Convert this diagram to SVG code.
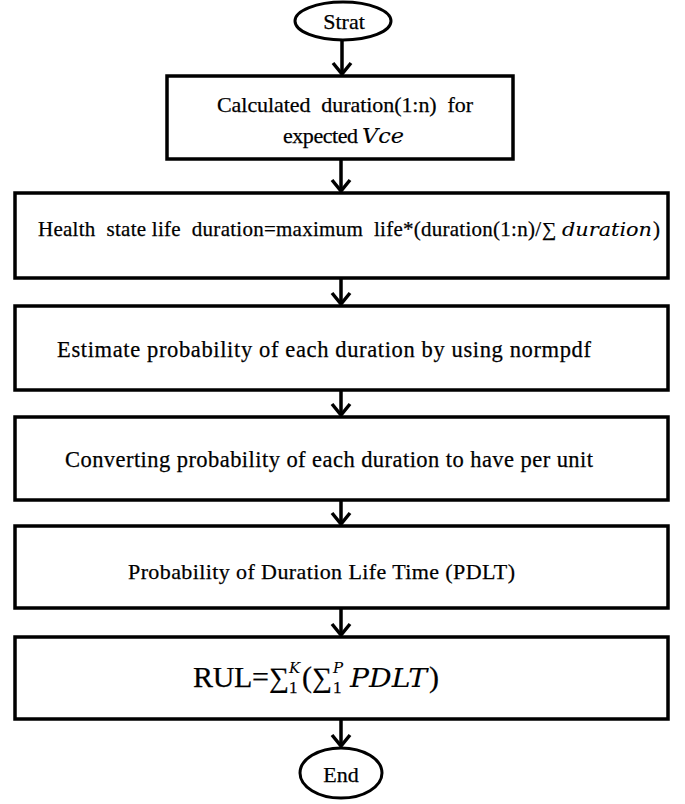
<svg xmlns="http://www.w3.org/2000/svg" width="685" height="804" viewBox="0 0 685 804">
<style>
.box{fill:#fff;stroke:#000;stroke-width:3.5}
.term{fill:#fff;stroke:#000;stroke-width:3}
.t{font-family:"Liberation Serif","Times New Roman",serif;font-size:20px;fill:#000;stroke:#000;stroke-width:0.25}
.i{font-family:"DejaVu Serif","Liberation Serif",serif;font-style:italic;stroke-width:0.1}
.c{stroke:#000;stroke-width:3.5;fill:none}
</style>
<defs>
<marker id="ah" viewBox="0 0 24 24" refX="20" refY="12" markerWidth="24" markerHeight="24" markerUnits="userSpaceOnUse" orient="auto">
<path d="M9,3 L20,12 L9,21" fill="none" stroke="#000" stroke-width="3.5"/>
</marker>
</defs>
<rect width="685" height="804" fill="#fff"/>
<g id="connectors">
<line class="c" x1="342" y1="40" x2="342" y2="74" marker-end="url(#ah)"/>
<line class="c" x1="341" y1="160" x2="341" y2="191" marker-end="url(#ah)"/>
<line class="c" x1="341" y1="279" x2="341" y2="304" marker-end="url(#ah)"/>
<line class="c" x1="341" y1="391" x2="341" y2="415" marker-end="url(#ah)"/>
<line class="c" x1="341" y1="501" x2="341" y2="524" marker-end="url(#ah)"/>
<line class="c" x1="341" y1="609" x2="341" y2="635" marker-end="url(#ah)"/>
<line class="c" x1="341" y1="720" x2="341" y2="746" marker-end="url(#ah)"/>
</g>
<g id="start">
<ellipse class="term" cx="343" cy="21" rx="48" ry="19"/>
<text class="t" x="344" y="29" text-anchor="middle" style="font-size:22px">Strat</text>
</g>
<g id="calc">
<rect class="box" x="167" y="76" width="346" height="83"/>
<text class="t" x="217" y="112" textLength="256" style="font-size:22px" xml:space="preserve">Calculated  duration(1:n)  for</text>
<text class="t" x="283" y="143" textLength="75" style="font-size:22px">expected</text>
<text class="t i" x="362" y="143" textLength="42" lengthAdjust="spacingAndGlyphs" style="font-size:20px">Vce</text>
</g>
<g id="health">
<rect class="box" x="15" y="193" width="653" height="85"/>
<text class="t" x="38" y="236" textLength="503" style="font-size:21px" xml:space="preserve">Health  state life  duration=maximum  life*(duration(1:n)/</text>
<text class="t" x="542" y="236" style="font-size:20px">∑</text>
<text class="t i" x="562" y="236" textLength="90" lengthAdjust="spacingAndGlyphs" style="font-size:19px">duration</text>
<text class="t" x="653" y="236" style="font-size:21px">)</text>
</g>
<g id="estimate">
<rect class="box" x="15" y="306" width="653" height="84"/>
<text class="t" x="57" y="357" textLength="534" style="font-size:22.5px">Estimate probability of each duration by using normpdf</text>
</g>
<g id="convert">
<rect class="box" x="15" y="417" width="653" height="83"/>
<text class="t" x="65" y="467" textLength="528" style="font-size:22.5px">Converting probability of each duration to have per unit</text>
</g>
<g id="pdlt">
<rect class="box" x="15" y="526" width="653" height="82"/>
<text class="t" x="128" y="579" textLength="387" style="font-size:22px">Probability of Duration Life Time (PDLT)</text>
</g>
<g id="rul">
<rect class="box" x="15" y="637" width="653" height="82"/>
<text class="t" x="193" y="687" textLength="76" style="font-size:30px">RUL=</text>
<text class="t" x="269" y="687" style="font-size:28px">∑</text>
<text class="t i" x="289" y="673" style="font-size:15px">K</text>
<text class="t" x="289" y="693" style="font-size:17px">1</text>
<text class="t" x="302" y="687" style="font-size:30px">(</text>
<text class="t" x="312" y="687" style="font-size:28px">∑</text>
<text class="t i" x="333" y="673" style="font-size:15px">P</text>
<text class="t" x="333" y="693" style="font-size:17px">1</text>
<text class="t i" x="350" y="687" textLength="77" lengthAdjust="spacingAndGlyphs" style="font-size:26px">PDLT</text>
<text class="t" x="429" y="687" style="font-size:30px">)</text>
</g>
<g id="end">
<ellipse class="term" cx="341" cy="773" rx="41" ry="25"/>
<text class="t" x="341" y="782" text-anchor="middle" style="font-size:22px">End</text>
</g>
</svg>
